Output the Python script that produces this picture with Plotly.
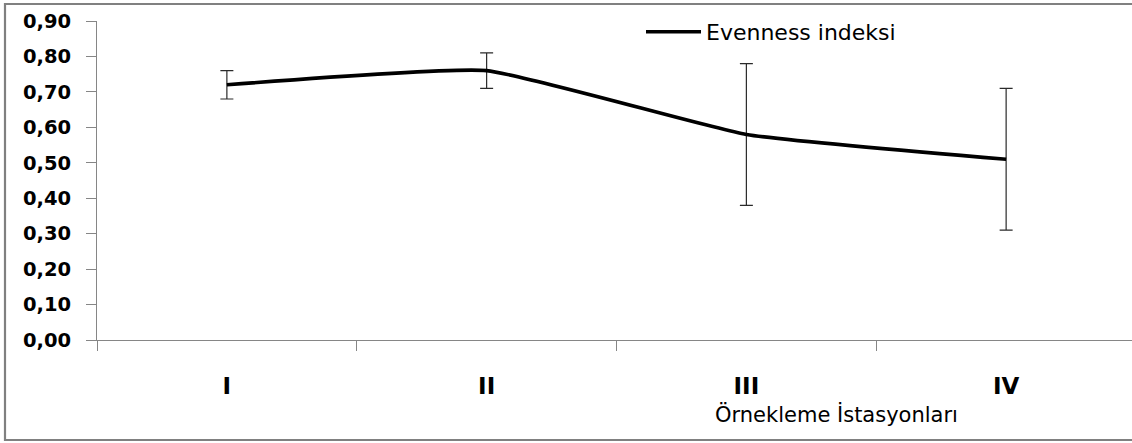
import plotly.graph_objects as go

# Sampling stations and their mean evenness index with error margins
stations = ["I", "II", "III", "IV"]
evenness = [0.72, 0.76, 0.58, 0.51]
error_margin = [0.04, 0.05, 0.20, 0.20]
y_ticks = [0.0, 0.1, 0.2, 0.3, 0.4, 0.5, 0.6, 0.7, 0.8, 0.9]
y_tick_text = ["0,00", "0,10", "0,20", "0,30", "0,40", "0,50", "0,60", "0,70", "0,80", "0,90"]

W, H = 1132, 443
L, R, T, B = 97, 0, 21, 103
plot_w = W - L - R

axis_grey = "#868686"

fig = go.Figure()
fig.add_trace(go.Scatter(
    x=stations,
    y=evenness,
    mode="lines",
    name="Evenness indeksi",
    line=dict(color="black", width=3.6, shape="spline", smoothing=0.4),
    error_y=dict(type="data", array=error_margin, visible=True,
                 color="#2a2a2a", thickness=1.2, width=6.5),
))

fig.update_layout(
    width=W, height=H,
    margin=dict(l=L, r=R, t=T, b=B),
    paper_bgcolor="white", plot_bgcolor="white",
    showlegend=True,
    legend=dict(
        x=(641 - L) / plot_w, xanchor="left",
        y=(340 - 32) / 319, yanchor="middle",
        itemwidth=55,
        bgcolor="rgba(0,0,0,0)", borderwidth=0,
        font=dict(family="DejaVu Sans", size=22, color="black"),
    ),
    xaxis=dict(
        type="category",
        range=[-0.5, 3.5 - 4 / 259.6],
        tickson="boundaries",
        ticks="outside", ticklen=10, tickcolor=axis_grey, tickwidth=1,
        showline=True, linecolor=axis_grey, linewidth=1,
        showgrid=False, zeroline=False,
        ticklabelstandoff=25,
        tickfont=dict(family="DejaVu Sans", size=23, color="black", weight="bold"),
    ),
    yaxis=dict(
        range=[0, 0.9],
        tickmode="array",
        tickvals=y_ticks,
        ticktext=y_tick_text,
        ticks="outside", ticklen=10, tickcolor=axis_grey, tickwidth=1,
        showline=True, linecolor=axis_grey, linewidth=1,
        showgrid=False, zeroline=False,
        ticklabelstandoff=11,
        tickfont=dict(family="DejaVu Sans", size=19.5, color="black", weight="bold"),
    ),
    annotations=[dict(
        text="Örnekleme İstasyonları",
        xref="paper", yref="paper",
        x=(836 - L) / plot_w, y=(340 - 414) / 319,
        xanchor="center", yanchor="middle",
        showarrow=False,
        font=dict(family="DejaVu Sans", size=21, color="black"),
    )],
    shapes=[dict(
        type="rect", xref="paper", yref="paper",
        x0=(5 - L) / plot_w, x1=(W + 10 - L) / plot_w,
        y0=(340 - 440) / 319, y1=(340 - 4) / 319,
        line=dict(color="#808080", width=2.2),
        fillcolor="rgba(0,0,0,0)", layer="below",
    )],
)

fig.write_html("out.html")
